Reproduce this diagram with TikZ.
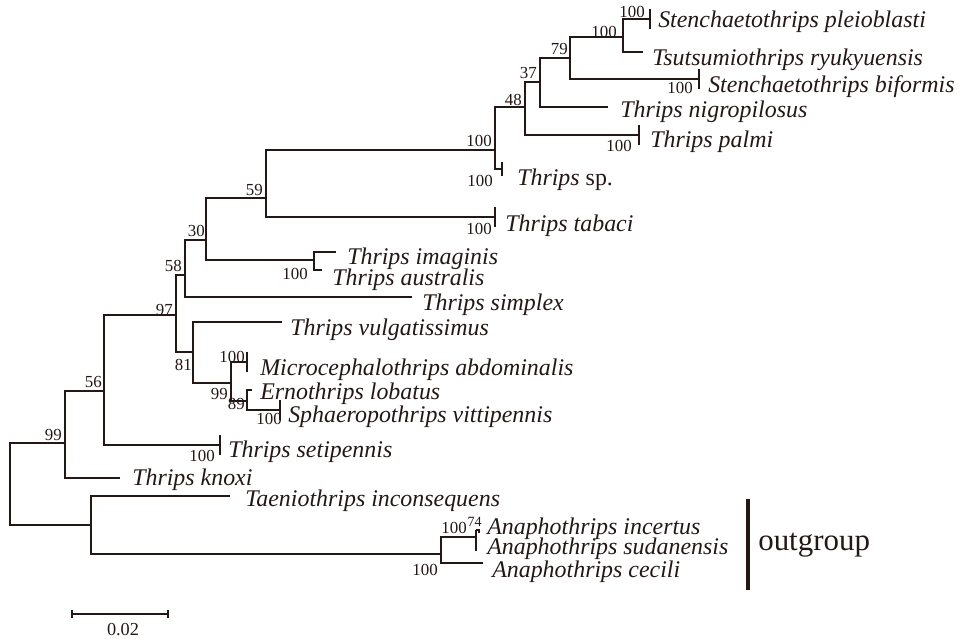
\documentclass[tikz,border=0pt]{standalone}
\usepackage{fontspec}
\setmainfont{Liberation Serif}
\usepackage{tikz}
\usetikzlibrary{positioning}
\definecolor{treeblack}{RGB}{35,24,21}

\begin{document}
\begin{tikzpicture}[
    x=0.025cm, y=-0.025cm,
    branch/.style={draw=treeblack, line width=1pt},
    tipbar/.style={draw=treeblack, line width=1.4pt},
    taxon/.style={anchor=west, inner sep=0pt, text=treeblack, font=\fontsize{17}{20}\selectfont\itshape},
    boot/.style={anchor=east, inner sep=0pt, text=treeblack, font=\fontsize{12}{14}\selectfont},
    group label/.style={anchor=west, inner sep=0pt, text=treeblack, font=\fontsize{22}{26}\selectfont}
]
    \useasboundingbox (0,0) rectangle (962,639);

    % Internal nodes (x of the vertical, y of the incoming branch)
    \coordinate (root) at (10, 484);
    \coordinate (n99a) at (65, 443);
    \coordinate (n56) at (104, 391);
    \coordinate (n97) at (176, 315);
    \coordinate (n58) at (185, 275);
    \coordinate (n30) at (206, 240);
    \coordinate (n59) at (266, 198);
    \coordinate (n100b) at (495, 150);
    \coordinate (n48) at (525, 107);
    \coordinate (n37) at (540, 82);
    \coordinate (n79) at (570, 58);
    \coordinate (n100a) at (623, 37);
    \coordinate (nimag) at (314, 260);
    \coordinate (n81) at (193, 352);
    \coordinate (n99b) at (231, 383);
    \coordinate (n89) at (247, 401);
    \coordinate (nout) at (91, 525);
    \coordinate (nana) at (441, 554);
    \coordinate (ninc) at (476, 537);

    % Tips
    \coordinate (pleio) at (650, 19);
    \coordinate (tsutsu) at (643, 52);
    \coordinate (biform) at (699, 79);
    \coordinate (nigro) at (608, 107);
    \coordinate (palmi) at (639, 135);
    \coordinate (tsp) at (502, 169);
    \coordinate (tabaci) at (495, 217);
    \coordinate (imag) at (336, 252);
    \coordinate (austr) at (322, 270);
    \coordinate (simplex) at (412, 297);
    \coordinate (vulg) at (282, 322);
    \coordinate (micro) at (247, 362);
    \coordinate (erno) at (252, 390);
    \coordinate (sphaero) at (280, 410);
    \coordinate (seti) at (220, 445);
    \coordinate (knoxi) at (120, 478);
    \coordinate (taenio) at (230, 496);
    \coordinate (cecili) at (483, 563);

    % Branches
    \foreach \p/\c in {root/n99a, root/nout, n99a/n56, n99a/knoxi, n56/n97, n56/seti,
                       n97/n58, n97/n81, n58/n30, n58/simplex, n30/n59, n30/nimag,
                       n59/n100b, n59/tabaci, n100b/n48, n100b/tsp, n48/n37, n48/palmi,
                       n37/n79, n37/nigro, n79/n100a, n79/biform, n100a/pleio, n100a/tsutsu,
                       nimag/imag, nimag/austr, n81/vulg, n81/n99b, n99b/micro, n99b/n89,
                       n89/erno, n89/sphaero, nout/taenio, nout/nana, nana/ninc, nana/cecili} {
        \draw[branch] (\p) |- (\c);
    }

    % Collapsed tips
    \foreach \t in {pleio, biform, palmi, tabaci, micro, sphaero, seti} {
        \draw[tipbar] ([yshift=7pt]\t) -- ([yshift=-7pt]\t);
    }
    \draw[tipbar] ([yshift=5pt]tsp) -- ([yshift=-5pt]tsp);
    \draw[tipbar] (476, 530) -- (476, 551);
    \draw[branch] (476, 530) -- (479, 530) -- (479, 533);

    % Taxa
    \node[taxon] (l-pleio) at (658, 22) {Stenchaetothrips pleioblasti};
    \node[taxon] (l-tsutsu) at (652, 60) {Tsutsumiothrips ryukyuensis};
    \node[taxon] (l-biform) at (708, 87) {Stenchaetothrips biformis};
    \node[taxon] (l-nigro) at (620, 112) {Thrips nigropilosus};
    \node[taxon] (l-palmi) at (650, 142) {Thrips palmi};
    \node[taxon] (l-tsp) at (517, 180) {Thrips\upshape{} sp.};
    \node[taxon] (l-tabaci) at (505, 226) {Thrips tabaci};
    \node[taxon] (l-imag) at (347, 259) {Thrips imaginis};
    \node[taxon] (l-austr) at (332, 280) {Thrips australis};
    \node[taxon] (l-simplex) at (422, 305) {Thrips simplex};
    \node[taxon] (l-vulg) at (290, 330) {Thrips vulgatissimus};
    \node[taxon] (l-micro) at (260, 370) {Microcephalothrips abdominalis};
    \node[taxon] (l-erno) at (260, 394) {Ernothrips lobatus};
    \node[taxon] (l-sphaero) at (288, 417) {Sphaeropothrips vittipennis};
    \node[taxon] (l-seti) at (228, 452) {Thrips setipennis};
    \node[taxon] (l-knoxi) at (132, 480) {Thrips knoxi};
    \node[taxon] (l-taenio) at (245, 501) {Taeniothrips inconsequens};
    \node[taxon] (l-incert) at (487, 529) {Anaphothrips incertus};
    \node[taxon] (l-sudan) at (487, 549) {Anaphothrips sudanensis};
    \node[taxon] (l-cecili) at (492, 572) {Anaphothrips cecili};

    % Bootstrap values
    \node[boot] (b-pleio) at (645, 12) {100};
    \node[boot] (b-100a) at (617, 32) {100};
    \node[boot] (b-79) at (568, 49) {79};
    \node[boot] (b-37) at (537, 73) {37};
    \node[boot] (b-48) at (522, 100) {48};
    \node[boot] (b-biform) at (693, 88) {100};
    \node[boot] (b-palmi) at (632, 146) {100};
    \node[boot] (b-100b) at (492, 141) {100};
    \node[boot] (b-tsp) at (493, 181) {100};
    \node[boot] (b-59) at (263, 190) {59};
    \node[boot] (b-tabaci) at (492, 229) {100};
    \node[boot] (b-30) at (205, 231) {30};
    \node[boot] (b-imag) at (308, 274) {100};
    \node[boot] (b-58) at (182, 266) {58};
    \node[boot] (b-97) at (173, 310) {97};
    \node[boot] (b-81) at (192, 365) {81};
    \node[boot] (b-micro) at (245, 357) {100};
    \node[boot] (b-99b) at (228, 394) {99};
    \node[boot] (b-89) at (245, 404) {89};
    \node[boot] (b-sphaero) at (282, 419) {100};
    \node[boot] (b-56) at (102, 382) {56};
    \node[boot] (b-seti) at (215, 456) {100};
    \node[boot] (b-99a) at (62, 435) {99};
    \node[boot] (b-inc) at (467, 528) {100};
    \node[boot, font=\fontsize{10}{12}\selectfont] (b-74) at (482, 522) {74};
    \node[boot] (b-nana) at (438, 570) {100};

    % Outgroup
    \draw[treeblack, line width=2.8pt] (748, 499) coordinate (og-top) -- (748, 590) coordinate (og-bot);
    \node[group label] (og) at (758, 545) {outgroup};

    % Scale bar
    \coordinate (sb-l) at (72, 614);
    \coordinate (sb-r) at (168, 614);
    \draw[branch] (sb-l) -- (sb-r);
    \draw[branch] ([yshift=3pt]sb-l) -- ([yshift=-3pt]sb-l);
    \draw[branch] ([yshift=3pt]sb-r) -- ([yshift=-3pt]sb-r);
    \node[text=treeblack, inner sep=0pt, font=\fontsize{13}{15}\selectfont] (sb) at (123, 630) {0.02};
\end{tikzpicture}
\end{document}
